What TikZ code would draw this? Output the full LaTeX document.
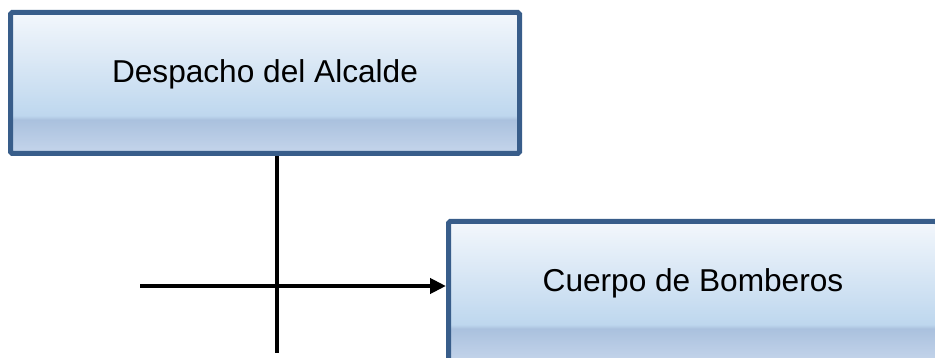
\documentclass[tikz,border=0pt]{standalone}
\usepackage{fontspec}
\setmainfont{Liberation Sans}
\usepackage{tikz}
\usetikzlibrary{arrows.meta,positioning}
\definecolor{boxedge}{RGB}{56,93,138}
\definecolor{boxtop}{RGB}{243,247,252}
\definecolor{boxmid}{RGB}{190,215,238}
\definecolor{boxband}{RGB}{170,193,222}
\definecolor{boxfoot}{RGB}{197,213,235}
\pgfdeclareverticalshading{boxgrad}{100bp}{color(0bp)=(boxfoot); color(25bp)=(boxfoot);
    color(37bp)=(boxband); color(38.5bp)=(boxmid); color(75bp)=(boxtop); color(100bp)=(boxtop)}
\tikzset{
    orgblk/.style={rectangle, draw=boxedge, line width=0.1cm, shade, shading=boxgrad,
                   rounded corners=1pt, minimum height=2.82cm, inner sep=0pt,
                   text height=0.5cm, text depth=0.5cm,
                   font=\fontsize{18}{22}\selectfont},
    conn/.style={line width=0.085cm, black},
    arr/.style={conn, -{Triangle[length=0.32cm,width=0.3cm]}},
}

\begin{document}
\begin{tikzpicture}
    \useasboundingbox (0,0) rectangle (18.7,7.16);
    \node[orgblk, minimum width=10.18cm] (despacho) at (5.30,5.50) {Despacho del Alcalde};
    \node[orgblk, minimum width=9.78cm, below right=1.26cm and -1.52cm of despacho] (cuerpo) {Cuerpo de Bomberos};
    % free ends of the two lines
    \coordinate (vbot) at (5.54,0.10);
    \coordinate (hleft) at (2.80,1.44);
    \draw[conn] (despacho.south -| vbot) -- (vbot);
    \draw[arr] (hleft) -- (hleft -| cuerpo.west);
\end{tikzpicture}
\end{document}
